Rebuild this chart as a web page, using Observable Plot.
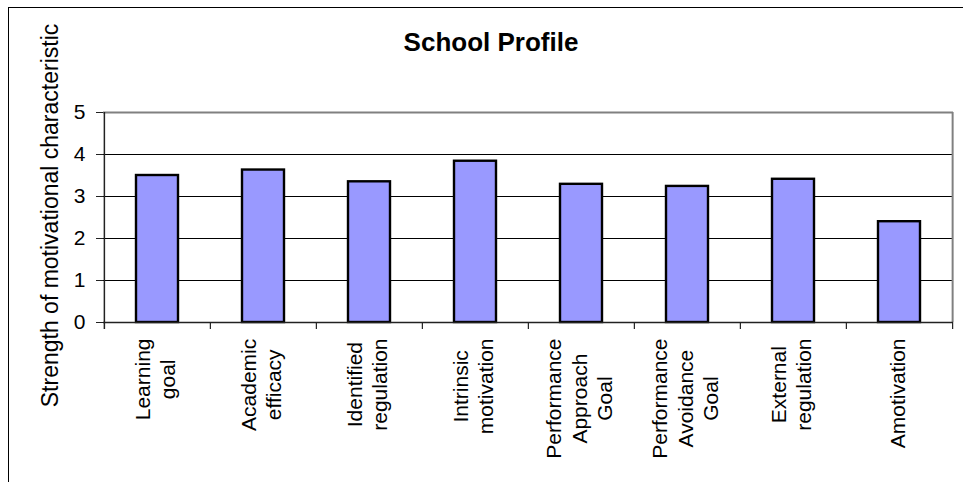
<!DOCTYPE html>
<html>
<head>
<meta charset="utf-8">
<script src="https://cdn.jsdelivr.net/npm/d3@7"></script>
<script src="https://cdn.jsdelivr.net/npm/@observablehq/plot@0.6"></script>
<style>
  html, body { margin: 0; padding: 0; background: #fff; }
  #wrap { position: relative; width: 963px; height: 482px; overflow: hidden; }
  #border { position: absolute; left: 8px; top: 7px; width: 2000px; height: 2000px; border: 1.5px solid #000; pointer-events: none; }
</style>
</head>
<body>
<div id="wrap"><div id="border"></div></div>
<script>
const title = "School Profile";
const yLabel = "Strength of motivational characteristic";
const categories = ["Learning goal", "Academic efficacy", "Identified regulation", "Intrinsic motivation",
  "Performance Approach Goal", "Performance Avoidance Goal", "External regulation", "Amotivation"];
const tickLabels = ["Learning\ngoal", "Academic\nefficacy", "Identified\nregulation", "Intrinsic\nmotivation",
  "Performance\nApproach\nGoal", "Performance\nAvoidance\nGoal", "External\nregulation", "Amotivation"];
const values = [3.50, 3.63, 3.35, 3.84, 3.29, 3.24, 3.41, 2.40];
const yTicks = [0, 1, 2, 3, 4, 5];
const gridValues = [1, 2, 3, 4];

const data = categories.map((c, i) => ({category: c, value: values[i]}));

const W = 963, H = 482, mL = 103, mR = 10, mT = 112, mB = 160;
const step = (W - mL - mR) / categories.length;
const frameH = H - mT - mB;
const last = categories[categories.length - 1];
const labelOf = new Map(categories.map((c, i) => [c, tickLabels[i]]));

const chart = Plot.plot({
  width: W, height: H,
  marginLeft: mL, marginRight: mR, marginTop: mT, marginBottom: mB,
  style: {fontFamily: "'Liberation Sans', Arial, sans-serif", fontSize: "21px", background: "transparent", color: "#000", overflow: "visible"},
  x: {domain: categories, paddingInner: 0.6, paddingOuter: 0.3, label: null, axis: null},
  y: {domain: [0, 5], label: null, axis: null},
  marks: [
    Plot.ruleY(gridValues, {stroke: "#000", strokeWidth: 1}),
    Plot.ruleY([5], {stroke: "#808080", strokeWidth: 2}),
    Plot.ruleX([last], {dx: step / 2, stroke: "#808080", strokeWidth: 2}),
    Plot.barY(data, {x: "category", y: "value", fill: "#9999FF", stroke: "#000", strokeWidth: 2.4}),
    Plot.ruleY([0], {stroke: "#222", strokeWidth: 1.5}),
    Plot.ruleX([categories[0]], {dx: -step / 2, stroke: "#222", strokeWidth: 1.5, insetBottom: -7}),
    Plot.ruleX(categories.slice(1), {dx: -step / 2, stroke: "#222", strokeWidth: 1.2, insetTop: frameH, insetBottom: -7}),
    Plot.ruleX([last], {dx: step / 2, stroke: "#222", strokeWidth: 1.2, insetTop: frameH, insetBottom: -7}),
    Plot.axisY({ticks: yTicks, tickSize: 7, tickPadding: 11, fontSize: 21, label: null, stroke: "#222",
      tickFormat: d => String(d)}),
    Plot.axisX({tickSize: 0, tickPadding: 16, tickRotate: -90, fontSize: 21, lineHeight: 1.2, dx: -3,
      tickFormat: d => labelOf.get(d), label: null}),
    Plot.text([title], {text: d => d, frameAnchor: "top", dx: -37.5, dy: -62, lineAnchor: "bottom",
      fontSize: 26, fontWeight: "bold", fill: "#000"}),
    Plot.text([yLabel], {text: d => d, frameAnchor: "left", rotate: -90, dx: -53, dy: -2,
      textAnchor: "middle", lineAnchor: "middle", fontSize: 23, fill: "#000"})
  ]
});

const wrap = document.getElementById("wrap");
chart.style.position = "absolute";
chart.style.left = "0";
chart.style.top = "0";
wrap.insertBefore(chart, wrap.firstChild);

// centre each multi-line rotated tick label within its own block, with the block's top at the tick padding
d3.select(chart).selectAll('g[aria-label="x-axis tick label"] text').each(function() {
  const w = this.getBBox().width;
  const t = d3.select(this);
  t.attr("text-anchor", "middle");
  const spans = t.selectAll("tspan");
  if (spans.size()) spans.attr("x", -w / 2);
  else t.attr("x", -w / 2);
});
</script>
</body>
</html>
